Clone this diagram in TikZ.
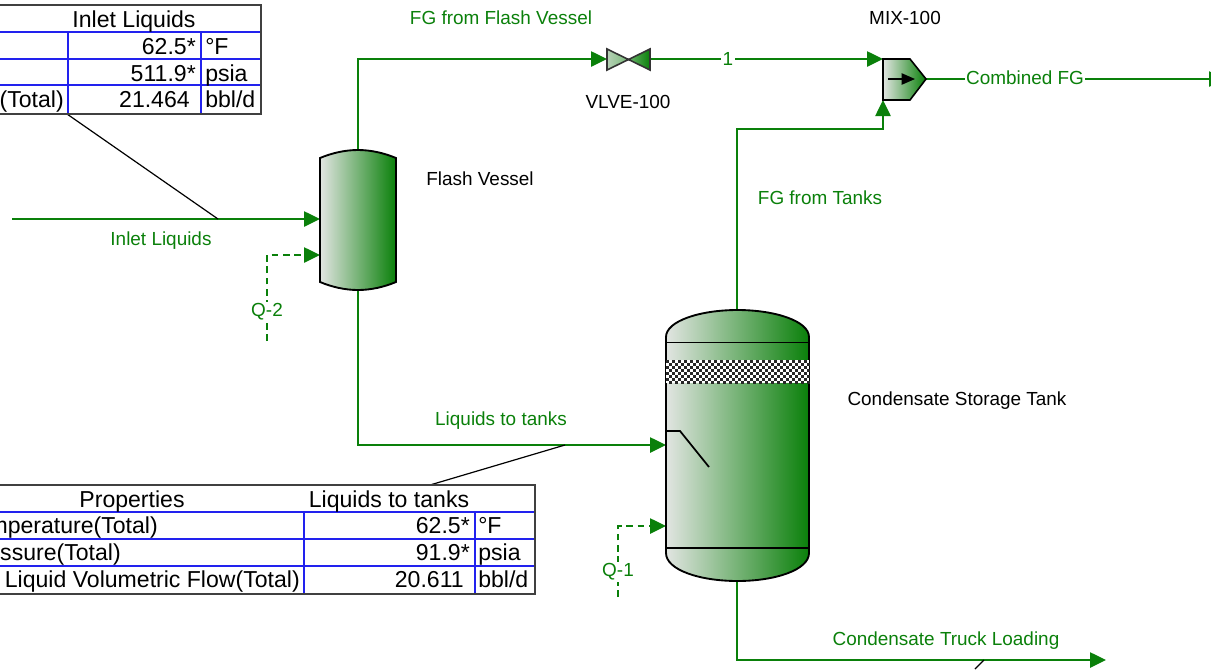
\documentclass[tikz,border=0pt]{standalone}
\usepackage{fontspec}
\setmainfont{Liberation Sans}
\usetikzlibrary{arrows.meta}
\definecolor{pfd}{HTML}{0A800A}
\definecolor{pale}{HTML}{E2E5E2}
\definecolor{rowblue}{HTML}{2222EE}
\tikzset{
 stream/.style={draw=pfd,line width=1.1pt},
 inflow/.style={stream,-{Triangle[length=12pt,width=11.5pt,fill=pfd]}},
 energy/.style={inflow,dash pattern=on 5pt off 3.5pt},
 greentag/.style={text=pfd,font=\fontsize{14.2}{16}\selectfont,inner sep=1pt},
 blacktag/.style={text=black,font=\fontsize{14.2}{16}\selectfont,inner sep=1pt},
 cell/.style={text=black,font=\fontsize{17.3}{20}\selectfont,inner sep=0pt},
 vesselbody/.style={draw=black,line width=1.4pt,left color=pale,right color=pfd},
 tabframe/.style={draw=black!75,line width=1pt},
 rowline/.style={draw=rowblue,line width=1pt},
 leader/.style={draw=black,line width=.9pt}
}
\begin{document}
\begin{tikzpicture}[x=.75pt,y=-.75pt]
\useasboundingbox (0,0) rectangle (1211,669);
\clip (0,0) rectangle (1211,669);
% named ports
\coordinate (inletStart) at (12,219);
\coordinate (inletTap) at (218,219);
\coordinate (flashIn) at (320,219);
\coordinate (flashQ) at (320,255);
\coordinate (q2End) at (267,341);
\coordinate (flashTop) at (358,150);
\coordinate (flashBot) at (358,290);
\coordinate (valveIn) at (607,59);
\coordinate (valveOut) at (650,59);
\coordinate (mixIn) at (883,59);
\coordinate (mixInB) at (883,100);
\coordinate (mixOut) at (926,79);
\coordinate (fgEnd) at (1225,79);
\coordinate (tankTop) at (737,310);
\coordinate (tankBot) at (737,581);
\coordinate (tankIn) at (666,445);
\coordinate (tankQ) at (666,526);
\coordinate (q1End) at (618,597);
\coordinate (truckEnd) at (1106,660);
\coordinate (liqTap) at (565,445);
\coordinate (truckTap) at (984,660);
\coordinate (truckTable) at (975,669);
\coordinate (t1Tap) at (67,114);
\coordinate (t2Tap) at (430,485);

% streams
\draw[inflow] (inletStart) -- (flashIn);
\draw[energy] (q2End) |- (flashQ);
\draw[inflow] (flashTop) |- (valveIn);
\draw[inflow] (valveOut) -- (mixIn);
\draw[inflow] (tankTop) |- (883,129) -- (mixInB);
\draw[inflow] (mixOut) -- (fgEnd);
\draw[inflow] (flashBot) |- (tankIn);
\draw[energy] (q1End) |- (tankQ);
\draw[inflow] (tankBot) |- (truckEnd);
% leaders
\draw[leader] (t1Tap) -- (inletTap);
\draw[leader] (t2Tap) -- (liqTap);
\draw[leader] (truckTap) -- (truckTable);

% flash vessel
\path[vesselbody] (320,158) .. controls (332,153) and (345,150) .. (358,150)
  .. controls (371,150) and (384,153) .. (396,158) -- (396,282)
  .. controls (384,287) and (371,290) .. (358,290)
  .. controls (345,290) and (332,287) .. (320,282) -- cycle;
% valve
\path[draw=black!80,line width=1.2pt,left color=pale!80!pfd,right color=pfd!55!white] (607,49) -- (628.5,59.5) -- (607,70) -- cycle;
\path[draw=black!80,line width=1.2pt,left color=pfd!60!white,right color=pfd] (650,49) -- (628.5,59.5) -- (650,70) -- cycle;
% mixer
\path[vesselbody,line width=1.2pt] (883,59) -- (910,59) -- (926,79) -- (910,100) -- (883,100) -- cycle;
\draw[black,line width=1pt,-{Triangle[length=10pt,width=8.5pt]}] (888,79) -- (915,79);
% tank
\path[vesselbody] (666,337) .. controls (666,321) and (700,310) .. (737.5,310)
  .. controls (775,310) and (809,321) .. (809,337) -- (809,553)
  .. controls (809,570) and (775,581) .. (737.5,581)
  .. controls (700,581) and (666,570) .. (666,553) -- cycle;
\draw[black,line width=1.3pt] (666,342.5) -- (809,342.5);
\draw[black,line width=1.3pt] (666,548) -- (809,548);
\fill[white] (666,360) rectangle (809,383);
\foreach \px in {666,672,...,804}{
 \foreach \py in {360,366,372,378}{
  \fill[black!85] (\px,\py) rectangle ++(3,3);
  \fill[black!85] (\px+3,\py+3) rectangle ++(3,3);
 }
}
\draw[black,line width=1.3pt] (666,431) -- (680,431) -- (709,467);

% labels
\node[greentag,fill=white] (lab1) at (728,59) {1};
\node[greentag,fill=white] (labQ2) at (267,312) {Q-2};
\node[greentag,fill=white] (labQ1) at (618,572) {Q-1};
\node[greentag,fill=white] (labCF) at (1025,78) {Combined FG};
\node[greentag] (labIL) at (161,241) {Inlet Liquids};
\node[greentag] (labFF) at (501,18) {FG from Flash Vessel};
\node[greentag] (labFT) at (820,198) {FG from Tanks};
\node[greentag] (labLT) at (501,421) {Liquids to tanks};
\node[greentag] (labCT) at (946,641) {Condensate Truck Loading};
\node[blacktag] (nFV) at (480,179) {Flash Vessel};
\node[blacktag] (nCS) at (957,401) {Condensate Storage Tank};
\node[blacktag] (nVV) at (628,102) {VLVE-100};
\node[blacktag] (nMX) at (905,18) {MIX-100};

% inlet table
\fill[white] (-5,5) rectangle (261,114);
\draw[rowline] (-5,32) -- (261,32) (-5,59) -- (261,59) (-5,85) -- (261,85);
\draw[rowline] (68,32) -- (68,114) (201,32) -- (201,114);
\draw[tabframe] (-5,5) rectangle (261,114);
\node[cell,anchor=base] (t1h) at (134,27) {Inlet Liquids};
\node[cell,anchor=base east] (t1a) at (196,54) {62.5*};
\node[cell,anchor=base west] (t1au) at (205,54) {°F};
\node[cell,anchor=base east] (t1b) at (196,81) {511.9*};
\node[cell,anchor=base west] (t1bu) at (205,81) {psia};
\node[cell,anchor=base east] (t1c) at (64,107) {Flow(Total)};
\node[cell,anchor=base east] (t1d) at (190,107) {21.464};
\node[cell,anchor=base west] (t1du) at (205,107) {bbl/d};

% lower table
\fill[white] (-5,485) rectangle (535,594);
\draw[rowline] (-5,512) -- (535,512) (-5,539) -- (535,539) (-5,566) -- (535,566);
\draw[rowline] (304,512) -- (304,594) (475,512) -- (475,594);
\draw[tabframe] (-5,485) rectangle (535,594);
\node[cell,anchor=base] (t2h) at (132,507) {Properties};
\node[cell,anchor=base] (t2i) at (389,507) {Liquids to tanks};
\node[cell,anchor=base east] (t2a) at (158,533) {Temperature(Total)};
\node[cell,anchor=base east] (t2av) at (470,533) {62.5*};
\node[cell,anchor=base west] (t2au) at (478,533) {°F};
\node[cell,anchor=base east] (t2b) at (121,560) {Pressure(Total)};
\node[cell,anchor=base east] (t2bv) at (470,560) {91.9*};
\node[cell,anchor=base west] (t2bu) at (478,560) {psia};
\node[cell,anchor=base east] (t2c) at (300,587) {Liquid Volumetric Flow(Total)};
\node[cell,anchor=base east] (t2cv) at (464,587) {20.611};
\node[cell,anchor=base west] (t2cu) at (478,587) {bbl/d};
\end{tikzpicture}
\end{document}
